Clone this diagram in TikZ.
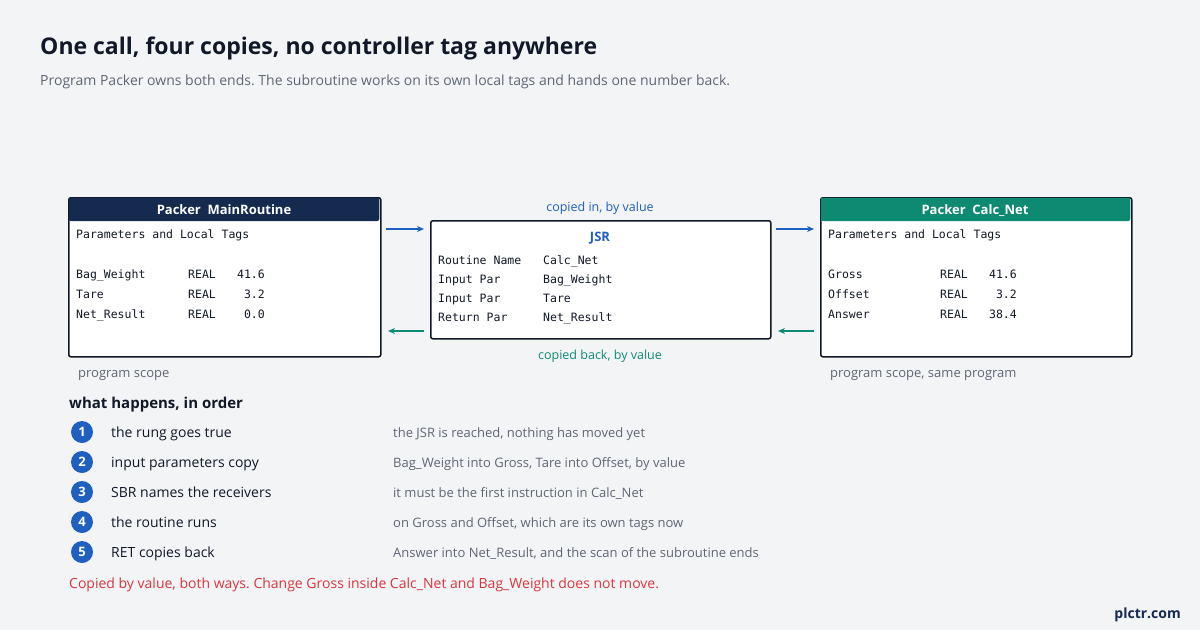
\documentclass[tikz,border=0pt]{standalone}
\usepackage{fontspec}
\setmainfont{Open Sans}
\newfontfamily\mono{DejaVu Sans Mono}
\usetikzlibrary{arrows.meta}
\definecolor{bg}{HTML}{F3F4F6}
\definecolor{navy}{HTML}{142A4F}
\definecolor{teal}{HTML}{0E8A73}
\definecolor{blu}{HTML}{1F5FBF}
\definecolor{ink}{HTML}{111827}
\definecolor{gry}{HTML}{5F6673}
\definecolor{red}{HTML}{D9363E}
\newcommand\comma{,}
\frenchspacing
\begin{document}
\begin{tikzpicture}[x=1pt,y=-1pt,
  txt/.style={anchor=base west,inner sep=0,font=\fontsize{14}{16}\selectfont,text=ink},
  sub/.style={anchor=base west,inner sep=0,font=\fontsize{13}{15}\selectfont,text=gry},
  mt/.style={anchor=base west,inner sep=0,font=\mono\fontsize{11.5}{13}\selectfont,text=ink},
  mr/.style={anchor=base east,inner sep=0,font=\mono\fontsize{11.5}{13}\selectfont,text=ink},
  hdr/.style={anchor=base,text=white,font=\bfseries\fontsize{13}{15}\selectfont},
  box/.style={draw=ink,line width=1.5pt,fill=white,rounded corners=2pt},
  stepc/.style={circle,fill=blu,text=white,minimum size=22pt,inner sep=0,font=\bfseries\fontsize{13}{15}\selectfont},
  arr/.style={-{Stealth[length=7pt,width=6pt]},line width=1.5pt}]
\fill[bg] (0,0) rectangle (1200,630);
\useasboundingbox (0,0) rectangle (1200,630);
\node[anchor=base west,inner sep=0,font=\bfseries\fontsize{23}{27}\selectfont,text=ink] (title) at (40,54) {One call, four copies, no controller tag anywhere};
\node[sub,font=\fontsize{14}{16}\selectfont] (subt) at (40,85) {Program Packer owns both ends. The subroutine works on its own local tags and hands one number back.};
% left box
\node[box,minimum width=312pt,minimum height=159pt,anchor=north west] (L) at (68,197) {};
\fill[navy,rounded corners=2pt] (68.75,197.75) rectangle (379.25,221);
\node[hdr] (Lh) at (224,214) {Packer\ \ MainRoutine};
\node[mt] (L0) at (76,238) {Parameters and Local Tags};
\node[mt] (L1) at (76,278) {Bag\_Weight}; \node[mt] (L1t) at (188,278) {REAL}; \node[mr] (L1v) at (265,278) {41.6};
\node[mt] (L2) at (76,298) {Tare}; \node[mt] (L2t) at (188,298) {REAL}; \node[mr] (L2v) at (265,298) {3.2};
\node[mt] (L3) at (76,318) {Net\_Result}; \node[mt] (L3t) at (188,318) {REAL}; \node[mr] (L3v) at (265,318) {0.0};
\node[sub] (Ls) at (78,377) {program scope};
% right box
\node[box,minimum width=311pt,minimum height=159pt,anchor=north west] (R) at (820,197) {};
\fill[teal,rounded corners=2pt] (820.75,197.75) rectangle (1130.25,221);
\node[hdr] (Rh) at (975,214) {Packer\ \ Calc\_Net};
\node[mt] (R0) at (828,238) {Parameters and Local Tags};
\node[mt] (R1) at (828,278) {Gross}; \node[mt] (R1t) at (940,278) {REAL}; \node[mr] (R1v) at (1017,278) {41.6};
\node[mt] (R2) at (828,298) {Offset}; \node[mt] (R2t) at (940,298) {REAL}; \node[mr] (R2v) at (1017,298) {3.2};
\node[mt] (R3) at (828,318) {Answer}; \node[mt] (R3t) at (940,318) {REAL}; \node[mr] (R3v) at (1017,318) {38.4};
\node[sub] (Rs) at (830,377) {program scope, same program};
% middle box
\node[box,minimum width=340pt,minimum height=118pt,anchor=north west] (M) at (430,220) {};
\node[anchor=base,text=blu,font=\bfseries\fontsize{13}{15}\selectfont] (Mh) at (600,241) {JSR};
\node[mt] (M1) at (438,264) {Routine Name}; \node[mt] (M1v) at (543,264) {Calc\_Net};
\node[mt] (M2) at (438,283) {Input Par}; \node[mt] (M2v) at (543,283) {Bag\_Weight};
\node[mt] (M3) at (438,302) {Input Par}; \node[mt] (M3v) at (543,302) {Tare};
\node[mt] (M4) at (438,321) {Return Par}; \node[mt] (M4v) at (543,321) {Net\_Result};
\node[anchor=base,text=blu,font=\fontsize{12.5}{15}\selectfont] (cin) at (600,211) {copied in, by value};
\node[anchor=base,text=teal,font=\fontsize{12.5}{15}\selectfont] (cback) at (600,359) {copied back, by value};
% arrows
\coordinate (a1) at (386,229); \coordinate (a2) at (424,229);
\coordinate (a3) at (776,229); \coordinate (a4) at (814,229);
\coordinate (b1) at (424,331); \coordinate (b2) at (388,331);
\coordinate (b3) at (814,331); \coordinate (b4) at (778,331);
\draw[arr,blu] (a1) -- (a2); \draw[arr,blu] (a3) -- (a4);
\draw[arr,teal] (b1) -- (b2); \draw[arr,teal] (b3) -- (b4);
% steps
\node[anchor=base west,inner sep=0,font=\bfseries\fontsize{15}{17}\selectfont,text=ink] (wh) at (69,408) {what happens, in order};
\foreach \i/\y/\a/\b in {1/432/the rung goes true/the JSR is reached\comma{} nothing has moved yet,
  2/462/input parameters copy/Bag\_Weight into Gross\comma{} Tare into Offset\comma{} by value,
  3/492/SBR names the receivers/it must be the first instruction in Calc\_Net,
  4/522/the routine runs/on Gross and Offset\comma{} which are its own tags now,
  5/552/RET copies back/Answer into Net\_Result\comma{} and the scan of the subroutine ends}{
  \node[stepc] (s\i) at (82,\y) {\i};
  \node[txt] (t\i) at (111,\y+5) {\a};
  \node[sub] (d\i) at (393,\y+5) {\b};
}
\node[anchor=base west,inner sep=0,font=\fontsize{14}{16}\selectfont,text=red] (foot) at (69,588) {Copied by value, both ways. Change Gross inside Calc\_Net and Bag\_Weight does not move.};
\node[anchor=base east,inner sep=0,font=\bfseries\fontsize{14}{16}\selectfont,text=navy] (brand) at (1181,618) {plctr.com};
\end{tikzpicture}
\end{document}
